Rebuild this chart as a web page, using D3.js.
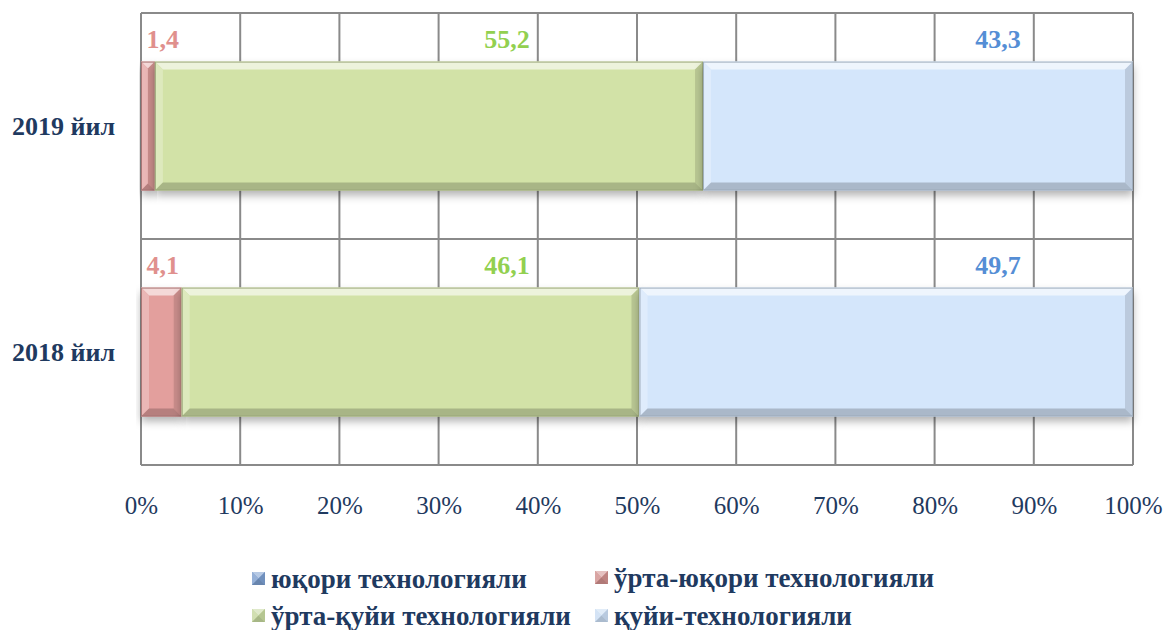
<!DOCTYPE html>
<html>
<head>
<meta charset="utf-8">
<script src="https://cdnjs.cloudflare.com/ajax/libs/d3/7.8.5/d3.min.js"></script>
<style>
  body { margin: 0; background: #fff; }
  text { font-family: "Liberation Serif", "Times New Roman", serif; }
</style>
</head>
<body>
<div id="chart"></div>
<script>
// years (top to bottom) and the four technology groups
const categories = ["2019 йил", "2018 йил"];
const seriesNames = ["юқори технологияли", "ўрта-юқори технологияли", "ўрта-қуйи технологияли", "қуйи-технологияли"];
const highTech = [0, 0];
const midHighTech = [1.4, 4.1];
const midLowTech = [55.2, 46.1];
const lowTech = [43.3, 49.7];
const tickValues = [0, 0.1, 0.2, 0.3, 0.4, 0.5, 0.6, 0.7, 0.8, 0.9, 1];

const width = 1163, height = 630;
const margin = {top: 13, right: 30, bottom: 165, left: 141};

// look of the series
const barColors = ["#7f9fcf", "#e39f9d", "#d2e2a7", "#d4e6fb"];
const legendColors = ["#7a9ccd", "#cf8e8c", "#c5d79e", "#c9dcf2"];
const labelColors = [null, "#e0908d", "#92d050", "#558ed5"];
// where Excel put the value labels (fraction of the axis, text centre)
const labelAt = [null, 0.022, 0.369, 0.864];

const textDark = "#1f3a60";
const gridColor = "#8a8a8a";

const svg = d3.select("#chart").append("svg")
  .attr("width", width)
  .attr("height", height);

const defs = svg.append("defs");
const shadow = defs.append("filter").attr("id", "shadow")
  .attr("x", "-10%").attr("y", "-20%").attr("width", "120%").attr("height", "150%");
shadow.append("feDropShadow")
  .attr("dx", 0).attr("dy", 5).attr("stdDeviation", 4)
  .attr("flood-color", "#000").attr("flood-opacity", 0.3);

const rows = categories.map((c, i) => ({
  cat: c,
  s0: highTech[i], s1: midHighTech[i], s2: midLowTech[i], s3: lowTech[i]
}));
const keys = ["s0", "s1", "s2", "s3"];
const raw = [highTech, midHighTech, midLowTech, lowTech];

const stack = d3.stack().keys(keys).offset(d3.stackOffsetExpand);
const series = stack(rows);

const x = d3.scaleLinear()
  .domain([0, 1])
  .range([margin.left, width - margin.right]);

const y = d3.scaleBand()
  .domain(categories)
  .range([margin.top, height - margin.bottom])
  .paddingInner(0.43)
  .paddingOuter(0.215);

// grid
const grid = svg.append("g").attr("class", "grid");
grid.selectAll("line.v")
  .data(tickValues)
  .enter()
  .append("line")
  .attr("class", "v")
  .attr("x1", d => x(d)).attr("x2", d => x(d))
  .attr("y1", y.range()[0]).attr("y2", y.range()[1])
  .attr("stroke", gridColor).attr("stroke-width", 2);

const step = y.step();
const hLines = d3.range(categories.length + 1).map(i => y.range()[0] + i * step);
grid.selectAll("line.h")
  .data(hLines)
  .enter()
  .append("line")
  .attr("class", "h")
  .attr("x1", x(0)).attr("x2", x(1))
  .attr("y1", d => d).attr("y2", d => d)
  .attr("stroke", gridColor).attr("stroke-width", 2);

// bevelled bar segment
function bevel(g, x0, y0, w, h, color) {
  const b = Math.min(8, w / 2);
  const lighter = t => d3.interpolateRgb(color, "#ffffff")(t);
  const darker = t => d3.interpolateRgb(color, "#000000")(t);
  g.append("rect")
    .attr("x", x0).attr("y", y0).attr("width", w).attr("height", h)
    .attr("fill", color)
    .attr("filter", "url(#shadow)");
  const poly = (pts, fill) => g.append("polygon")
    .attr("points", pts.map(p => p.join(",")).join(" "))
    .attr("fill", fill);
  poly([[x0, y0], [x0 + w, y0], [x0 + w - b, y0 + b], [x0 + b, y0 + b]], lighter(0.6));
  poly([[x0, y0], [x0 + b, y0 + b], [x0 + b, y0 + h - b], [x0, y0 + h]], lighter(0.25));
  poly([[x0 + w, y0], [x0 + w, y0 + h], [x0 + w - b, y0 + h - b], [x0 + w - b, y0 + b]], darker(0.12));
  poly([[x0, y0 + h], [x0 + b, y0 + h - b], [x0 + w - b, y0 + h - b], [x0 + w, y0 + h]], darker(0.2));
  g.append("rect")
    .attr("x", x0 + 0.5).attr("y", y0 + 0.5).attr("width", Math.max(0, w - 1)).attr("height", h - 1)
    .attr("fill", "none")
    .attr("stroke", darker(0.25)).attr("stroke-width", 1);
}

const barsG = svg.append("g").attr("class", "bars");
series.forEach((s, si) => {
  s.forEach(d => {
    const w = x(d[1]) - x(d[0]);
    if (w <= 0.5) return;
    bevel(barsG.append("g"), x(d[0]), y(d.data.cat), w, y.bandwidth(), barColors[si]);
  });
});

// value labels above the bars
const fmt = v => d3.format(".1f")(v).replace(".", ",");
raw.forEach((vals, si) => {
  if (labelAt[si] === null) return;
  svg.append("g").selectAll("text")
    .data(categories)
    .enter()
    .append("text")
    .attr("x", x(labelAt[si]))
    .attr("y", d => y(d) - 14)
    .attr("text-anchor", "middle")
    .style("font-size", "26px")
    .style("font-weight", "bold")
    .style("fill", labelColors[si])
    .text((d, i) => fmt(vals[i]));
});

// category labels
svg.append("g").selectAll("text")
  .data(categories)
  .enter()
  .append("text")
  .attr("x", margin.left - 26)
  .attr("y", d => y(d) + y.bandwidth() / 2)
  .attr("dy", "0.35em")
  .attr("text-anchor", "end")
  .style("font-size", "26px")
  .style("font-weight", "bold")
  .style("fill", textDark)
  .text(d => d);

// x axis
const xAxis = d3.axisBottom(x)
  .tickValues(tickValues)
  .tickSize(0)
  .tickPadding(0)
  .tickFormat(d3.format(".0%"));

const axisG = svg.append("g")
  .attr("transform", `translate(0, ${y.range()[1] + 31})`)
  .call(xAxis);
axisG.select(".domain").remove();
axisG.selectAll("text")
  .style("font-family", "'Liberation Serif', 'Times New Roman', serif")
  .style("font-size", "25px")
  .style("fill", textDark);

// legend
const legendPos = [[252, 572], [595, 571], [252, 609], [595, 609]];
const legend = svg.append("g").attr("class", "legend");
seriesNames.forEach((name, i) => {
  const [lx, ly] = legendPos[i];
  const g = legend.append("g").attr("transform", `translate(${lx}, ${ly})`);
  const s = 13, c = legendColors[i];
  const lighter = d3.interpolateRgb(c, "#ffffff");
  const darker = d3.interpolateRgb(c, "#000000");
  g.append("rect").attr("width", s).attr("height", s).attr("fill", c);
  const m = s / 2;
  g.append("polygon").attr("points", `0,0 ${s},0 ${m},${m}`).attr("fill", lighter(0.45));
  g.append("polygon").attr("points", `0,0 ${m},${m} 0,${s}`).attr("fill", lighter(0.2));
  g.append("polygon").attr("points", `${s},0 ${s},${s} ${m},${m}`).attr("fill", darker(0.08));
  g.append("polygon").attr("points", `0,${s} ${m},${m} ${s},${s}`).attr("fill", darker(0.15));
  g.append("text")
    .attr("x", s + 6)
    .attr("y", s / 2)
    .attr("dy", "0.35em")
    .style("font-size", "27px")
    .style("font-weight", "bold")
    .style("fill", textDark)
    .text(name);
});
</script>
</body>
</html>
